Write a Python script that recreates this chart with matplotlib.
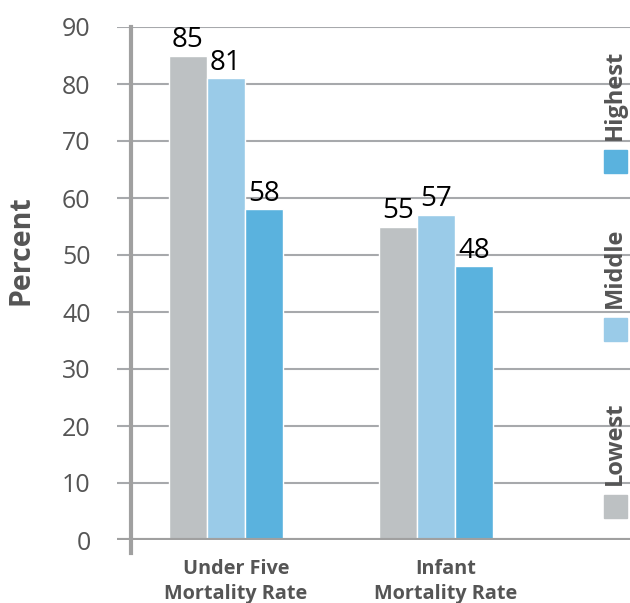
import matplotlib.pyplot as plt
from matplotlib.patches import Rectangle

plt.rcParams['font.family'] = ['Open Sans', 'DejaVu Sans']

categories = ['Under Five\nMortality Rate', 'Infant\nMortality Rate']
groups = ['Lowest', 'Middle', 'Highest']
values = {
    'Lowest': [85, 55],
    'Middle': [81, 57],
    'Highest': [58, 48],
}
colors = {'Lowest': '#BDC1C3', 'Middle': '#9ACBE8', 'Highest': '#5AB2DE'}
yticks = [0, 10, 20, 30, 40, 50, 60, 70, 80, 90]

fig = plt.figure(figsize=(6.3, 6.03), dpi=100)
ax = fig.add_axes([117 / 630, 63 / 603, 513 / 630, 513 / 603])

width = 0.181
x = range(len(categories))
for i, g in enumerate(groups):
    pos = [c + (i - 1) * width for c in x]
    bars = ax.bar(pos, values[g], width=width, color=colors[g],
                  edgecolor='white', linewidth=1, zorder=3)
    for b, v in zip(bars, values[g]):
        ax.text(b.get_x() + b.get_width() / 2, v + 0.3, str(v),
                ha='center', va='bottom', fontsize=20, color='black', zorder=4)

ax.set_xlim(-0.519, 1.924)
ax.set_ylim(0, 90)
ax.set_yticks(yticks)
ax.yaxis.grid(True, color='#A7A9AC', linewidth=1.5, zorder=0)
ax.set_axisbelow(True)
for s in ax.spines.values():
    s.set_visible(False)
ax.tick_params(axis='both', length=0)
ax.tick_params(axis='y', labelsize=18, labelcolor='#555555', pad=19)

# axis lines: x baseline and left spine which hangs below the baseline
ax.axhline(0, color='#A0A0A0', linewidth=3, zorder=5)
ax.plot([-0.452, -0.452], [-2.3, 90], color='#A0A0A0', linewidth=3,
        clip_on=False, zorder=5)

# category labels sit a little right of the group centres
ax.set_xticks([c + 0.048 for c in x])
ax.set_xticklabels(categories, fontsize=14.3, fontweight='bold',
                   color='#555555', linespacing=1.3)
ax.tick_params(axis='x', pad=14)

ax.set_ylabel('Percent', fontsize=20.5, fontweight='bold', color='#555555')
ax.yaxis.set_label_coords(-0.158, 0.565)

# vertical legend along the right edge
legend_y = [(495, 377), (318, 230), (150, 50)]
for g, (sq_top, txt_top) in zip(groups, legend_y):
    fig.patches.append(Rectangle((604 / 630, 1 - (sq_top + 23) / 603),
                                 23 / 630, 23 / 603, color=colors[g],
                                 transform=fig.transFigure, figure=fig))
    fig.text(615 / 630, 1 - (sq_top - 10) / 603, g, rotation=90,
             ha='center', va='bottom', fontsize=17, fontweight='bold',
             color='#555555')

fig.savefig('out.png', dpi=100)
